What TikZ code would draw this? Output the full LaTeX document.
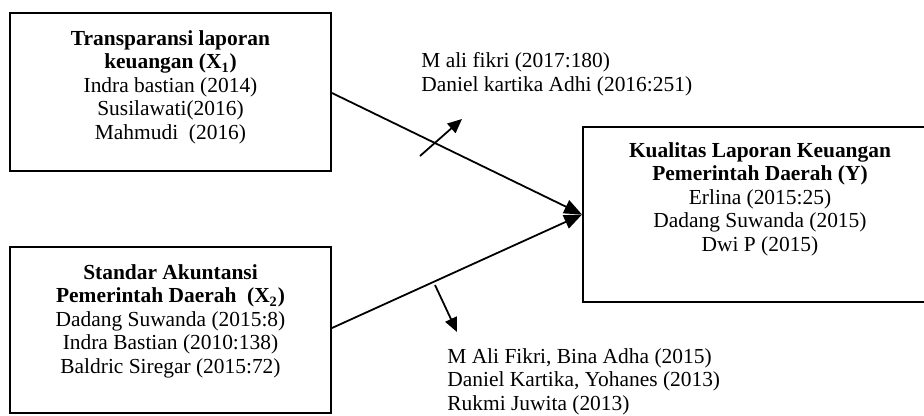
\documentclass[tikz,border=0pt]{standalone}
\usepackage{fontspec}
\setmainfont{Liberation Serif}
\usetikzlibrary{arrows.meta}
\newcommand\ux{0.56pt}
\tikzset{
  x=0.56pt, y=-0.56pt,
  box/.style={draw, line width=1.1pt, inner sep=0pt},
  txt/.style={align=center, inner sep=0pt, font=\fontsize{12pt}{13.2pt}\selectfont},
  lbl/.style={align=left, inner sep=0pt, font=\fontsize{12pt}{13.2pt}\selectfont},
  mainarr/.style={line width=1pt, -{Triangle[length=10pt,width=8pt]}},
  sidearr/.style={line width=1pt, -{Triangle[length=8pt,width=7pt]}}
}
\begin{document}
\begin{tikzpicture}
\useasboundingbox (0,0) rectangle (924,415);
% boxes
\node[box, minimum width=321*\ux, minimum height=158*\ux] (x1) at (170.5,92) {};
\node[box, minimum width=321*\ux, minimum height=166*\ux] (x2) at (170.5,330) {};
\node[box, minimum width=354*\ux, minimum height=175*\ux] (y) at (760,214.5) {};
% box texts
\node[txt, anchor=north] (t1) at (170.5,30) {\textbf{Transparansi laporan}\\ \textbf{keuangan (X\textsubscript{1})}\\ Indra bastian (2014)\\ Susilawati(2016)\\ Mahmudi~~(2016)};
\node[txt, anchor=north] (t2) at (170.5,264) {\textbf{Standar Akuntansi}\\ \textbf{Pemerintah Daerah~~(X\textsubscript{2})}\\ Dadang Suwanda (2015:8)\\ Indra Bastian (2010:138)\\ Baldric Siregar (2015:72)};
\node[txt, anchor=north] (ty) at (760,142) {\textbf{Kualitas Laporan Keuangan}\\ \textbf{Pemerintah Daerah (Y)}\\ Erlina (2015:25)\\ Dadang Suwanda (2015)\\ Dwi P (2015)};
% labels
\node[lbl, anchor=north west] (l1) at (421,52) {M ali fikri (2017:180)\\ Daniel kartika Adhi (2016:251)};
\node[lbl, anchor=north west] (l2) at (447,348) {M Ali Fikri, Bina Adha (2015)\\ Daniel Kartika, Yohanes (2013)\\ Rukmi Juwita (2013)};
% main arrows
\coordinate (m) at (y.west);
\draw[mainarr] (x1.east |- 0,93) -- (m);
\draw[mainarr] (x2.east |- 0,328) -- (m);
% side arrows
\coordinate (s1a) at (420,156);
\coordinate (s1b) at (462,119);
\coordinate (s2a) at (435,285);
\coordinate (s2b) at (457,332);
\draw[sidearr] (s1a) -- (s1b);
\draw[sidearr] (s2a) -- (s2b);
\end{tikzpicture}
\end{document}
